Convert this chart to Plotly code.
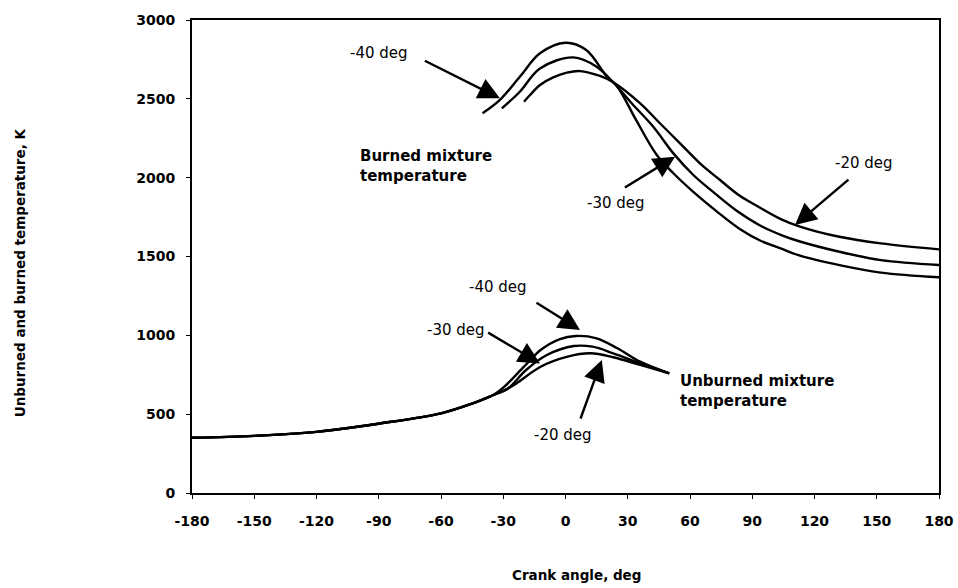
import plotly.graph_objects as go

# Crank angle (deg) and temperature (K) samples for each spark timing
unburned_40_deg = [-180, -150, -120, -90, -60, -45, -35, -30, -20, -12, -3, 5, 15, 25, 36, 50]
unburned_40_K = [350, 362, 388, 440, 505, 567, 620, 668, 801, 907, 975, 996, 981, 918, 833, 759]

unburned_30_deg = [-180, -150, -120, -90, -60, -45, -35, -28, -19, -9, 4, 13, 23, 36, 50]
unburned_30_K = [350, 362, 388, 440, 505, 567, 620, 660, 780, 875, 932, 928, 886, 822, 759]

unburned_20_deg = [-180, -150, -120, -90, -60, -45, -35, -30, -24, -12, 1, 12, 23, 36, 50]
unburned_20_K = [350, 362, 388, 440, 505, 567, 620, 648, 692, 801, 865, 886, 861, 812, 759]

burned_40_deg = [-40, -31.6, -22, -12.3, 0, 10, 20, 25, 34, 44, 52, 61.6, 73, 84, 94, 104, 113, 132, 152, 180]
burned_40_K = [2408, 2493, 2640, 2789, 2856, 2810, 2640, 2577, 2366, 2144, 2028, 1910, 1785, 1675, 1600, 1550, 1505, 1445, 1398, 1368]

burned_30_deg = [-30.7, -22, -12.3, 3.8, 15, 23, 32, 42.3, 52, 61.6, 71, 82.5, 94, 104, 113, 132, 152, 180]
burned_30_K = [2440, 2545, 2693, 2763, 2704, 2605, 2470, 2323, 2154, 2017, 1911, 1790, 1695, 1636, 1595, 1530, 1477, 1446]

burned_20_deg = [-20, -17.1, -12.3, -5.9, 0.6, 7, 16.6, 23, 36, 45.5, 55.2, 64.8, 74.5, 84, 94, 104, 113, 132, 152, 180]
burned_20_K = [2481, 2524, 2588, 2636, 2666, 2676, 2645, 2605, 2471, 2345, 2218, 2091, 1985, 1885, 1808, 1736, 1690, 1625, 1583, 1545]

x_ticks = list(range(-180, 181, 30))
y_ticks = list(range(0, 3001, 500))

series = [
    (unburned_40_deg, unburned_40_K),
    (unburned_30_deg, unburned_30_K),
    (unburned_20_deg, unburned_20_K),
    (burned_40_deg, burned_40_K),
    (burned_30_deg, burned_30_K),
    (burned_20_deg, burned_20_K),
]

fig = go.Figure()
for xs, ys in series:
    fig.add_trace(go.Scatter(
        x=xs, y=ys, mode="lines",
        line=dict(color="black", width=2.4, shape="spline", smoothing=1.0),
        showlegend=False, hoverinfo="skip",
    ))

label_font = dict(family="DejaVu Sans", size=15, color="black")
bold_font = dict(family="DejaVu Sans", size=15, color="black", weight="bold")
title_font = dict(family="DejaVu Sans", size=13.5, color="black", weight="bold")

# (text, text x, text y, tail x, tail y, tip x, tip y)
arrows = [
    ("-40 deg", -89.9, 2791, -68.5, 2746, -31.6, 2503),
    ("-30 deg", 24.3, 1839, 27.9, 1932, 52.8, 2133),
    ("-20 deg", 143.9, 2093, 137.1, 1996, 110.6, 1700),
    ("-40 deg", -32.5, 1307, -14.7, 1213, 7, 1034),
    ("-30 deg", -52.8, 1034, -38, 1023, -12.3, 822),
    ("-20 deg", -1.2, 368, 7, 463, 17.5, 844),
]

annotations = []
for text, tx, ty, ax, ay, x, y in arrows:
    annotations.append(dict(
        x=x, y=y, ax=ax, ay=ay, xref="x", yref="y", axref="x", ayref="y",
        text="", showarrow=True, arrowhead=2, arrowsize=1.8, arrowwidth=2.4,
        arrowcolor="black",
    ))
    annotations.append(dict(
        x=tx, y=ty, xref="x", yref="y", text=text, showarrow=False,
        font=label_font, xanchor="center", yanchor="middle",
    ))

annotations.append(dict(
    x=-100, y=2074, xref="x", yref="y", text="Burned mixture<br>temperature",
    showarrow=False, font=bold_font, align="left", xanchor="left", yanchor="middle",
))
annotations.append(dict(
    x=54.2, y=647, xref="x", yref="y", text="Unburned mixture<br>temperature",
    showarrow=False, font=bold_font, align="left", xanchor="left", yanchor="middle",
))

# Axis titles
annotations.append(dict(
    x=0.515, y=-0.173, xref="paper", yref="paper", text="Crank angle, deg",
    showarrow=False, font=title_font, xanchor="center", yanchor="middle",
))
annotations.append(dict(
    x=-0.230, y=0.465, xref="paper", yref="paper",
    text="Unburned and burned temperature, K", textangle=-90,
    showarrow=False, font=title_font, xanchor="center", yanchor="middle",
))

tick_font = dict(family="DejaVu Sans", size=14, color="black", weight="bold")

fig.update_layout(
    width=958, height=588,
    margin=dict(l=192, r=19, t=20, b=95, autoexpand=False),
    paper_bgcolor="white", plot_bgcolor="white",
    annotations=annotations,
    xaxis=dict(
        range=[-180, 180], tickvals=x_ticks, ticktext=[str(v) for v in x_ticks],
        showgrid=False, zeroline=False, automargin=False,
        showline=True, linecolor="black", linewidth=2, mirror=True,
        ticks="outside", ticklen=4, tickcolor="black", tickwidth=1,
        tickfont=tick_font, ticklabelstandoff=10,
    ),
    yaxis=dict(
        range=[0, 3000], tickvals=y_ticks, ticktext=[str(v) for v in y_ticks],
        showgrid=False, zeroline=False, automargin=False,
        showline=True, linecolor="black", linewidth=2, mirror=True,
        ticks="outside", ticklen=4, tickcolor="black", tickwidth=1,
        tickfont=tick_font, ticklabelstandoff=8,
    ),
)

fig.write_html("out.html")
